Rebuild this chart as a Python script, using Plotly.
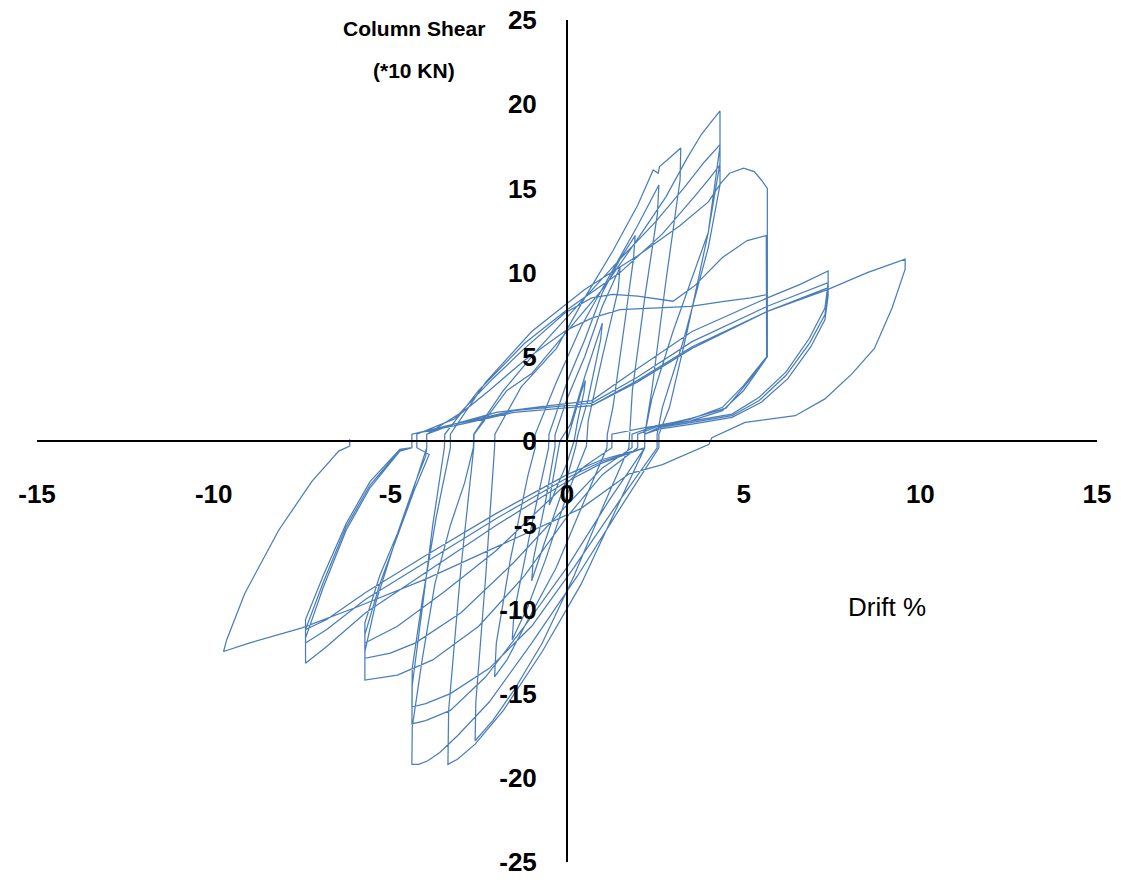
import plotly.graph_objects as go

# ---- data (drift %, column shear *10 kN) ----
drift_c1 = [0, 0.2, 0.4, 0.52, 0.48, 0.3, 0.2, 0.0, -0.3, -0.5, -0.46, -0.3, -0.2]
shear_c1 = [0, 1.5, 2.9, 3.6, 2.9, 1.2, 0, -1.3, -2.8, -3.8, -3.0, -1.2, 0]

drift_c2 = [0.1, 0.5, 1.0, 0.95, 0.6, 0.3, 0.25, 0.0, -0.5, -1.0, -0.95, -0.6, -0.34, -0.34, 0.0]
shear_c2 = [1.0, 3.8, 7.0, 6.0, 2.5, 0.3, -0.3, -2.2, -5.2, -8.3, -7.0, -3.5, -0.35, 0.35, 2.5]

drift_c3 = [0.5, 1.0, 1.5, 1.45, 1.0, 0.6, 0.55, 0.0, -0.6, -1.1, -1.55, -1.5, -1.0, -0.52, -0.51, 0.0]
shear_c3 = [5.0, 8.0, 10.3, 9.0, 5.0, 1.2, -0.3, -3.2, -7.0, -9.8, -11.8, -10.2, -5.0, -0.4, 0.4, 3.5]

drift_c4 = [0.5, 1.0, 1.5, 1.93, 1.88, 1.6, 1.3, 1.14, 1.13, 0.5, -0.3, -1.2, -1.7, -2.05, -2.0, -1.6, -1.1, -0.9, -0.9, -0.3]
shear_c4 = [6.0, 8.8, 10.8, 12.2, 10.8, 6.5, 2.0, 0.4, -0.4, -3.5, -7.5, -11.0, -13.0, -14.0, -12.0, -7.0, -2.0, -0.4, 0.4, 3.5]

drift_c5 = [0.4, 1.2, 2.0, 2.4, 2.6, 2.56, 2.2, 1.85, 1.76, 1.75, 1.0, 0.2, -0.7, -1.5, -2.1, -2.6, -2.58, -2.3, -2.05, -2.04, -1.3]
shear_c5 = [6.8, 9.8, 12.8, 14.4, 15.2, 13.5, 8.5, 3.0, 0.4, -0.4, -4.0, -8.0, -12.0, -14.8, -16.6, -17.8, -15.5, -8.0, -0.4, 0.4, 3.2]

drift_c6 = [-0.3, 0.5, 1.3, 2.0, 2.44, 2.58, 2.62, 2.9, 3.22, 3.2, 2.8, 2.4, 2.2, 2.2, 1.4, 0.4, -0.7, -1.8, -2.6, -3.1, -3.37, -3.35, -3.0, -2.64, -2.63, -1.7]
shear_c6 = [5.5, 8.5, 11.3, 14.0, 16.1, 15.9, 16.3, 16.8, 17.4, 15.5, 9.5, 3.0, 0.4, -0.4, -4.0, -8.5, -12.5, -16.0, -18.0, -18.9, -19.2, -16.0, -7.5, -0.4, 0.4, 3.0]

drift_c7 = [-1.0, 0, 1.0, 2.0, 2.8, 3.4, 3.8, 4.1, 4.33, 4.33, 4.0, 3.4, 2.9, 2.6, 2.6, 1.5, 0.3, -1.0, -2.2, -3.1, -3.6, -3.95, -4.2, -4.39, -4.38, -4.1, -3.74, -3.3, -2.9, -2.65, -2.64]
shear_c7 = [4.0, 6.5, 9.0, 12.0, 14.5, 16.8, 18.2, 19.0, 19.6, 17.5, 12.4, 6.5, 2.0, 0.4, -0.4, -4.0, -8.0, -12.0, -15.5, -17.5, -18.5, -19.0, -19.2, -19.2, -17.0, -13.0, -8.5, -5.0, -2.5, -0.4, 0.4]

drift_c8 = [-1.8, -0.8, 0.5, 1.5, 2.5, 3.3, 3.9, 4.33, 4.33, 4.0, 3.0, 2.4, 2.2, 2.2, 1.2, 0, -1.2, -2.3, -3.3, -4.0, -4.39, -4.38, -4.1, -3.8, -3.55, -3.47, -3.46]
shear_c8 = [3.0, 5.5, 8.5, 10.8, 13.0, 15.0, 16.6, 17.6, 16.5, 12.4, 6.5, 2.5, 0.4, -0.4, -3.5, -7.5, -11.0, -14.0, -16.0, -16.6, -16.8, -14.5, -10.0, -5.0, -1.5, -0.4, 0.4]

drift_c9 = [-2.5, -1.2, 0, 1.5, 2.7, 3.6, 4.0, 4.33, 4.33, 4.0, 3.3, 2.7, 2.55, 2.55, 1.5, 0.2, -1.0, -2.2, -3.3, -4.0, -4.39, -4.38, -4.1, -3.7, -3.4, -3.3, -3.3]
shear_c9 = [3.0, 5.8, 7.8, 10.0, 12.3, 14.5, 15.5, 16.4, 15.2, 11.5, 6.0, 2.0, 0.4, -0.4, -3.5, -7.5, -11.0, -13.5, -15.0, -15.6, -15.8, -13.5, -9.5, -4.5, -1.5, -0.4, 0.4]

drift_c10 = [-2.3, -1.0, 0.5, 2.0, 3.2, 4.0, 4.35, 4.6, 5.0, 5.3, 5.5, 5.67, 5.67, 5.0, 4.5, 3.54, 2.6, 2.0, 2.0, 1.0, 0, -1.2, -2.5, -3.8, -4.8, -5.72, -5.72, -5.4, -4.9, -4.4, -4.05, -3.97, -3.97]
shear_c10 = [3.5, 6.5, 9.0, 11.0, 12.8, 14.2, 15.3, 15.9, 16.2, 16.0, 15.5, 15.0, 5.0, 3.2, 1.95, 1.36, 0.9, 0.4, -0.4, -2.0, -4.5, -8.0, -11.0, -13.0, -13.9, -14.2, -12.5, -9.5, -6.2, -3.2, -1.0, -0.4, 0.4]

drift_c11 = [-3.06, -2.1, -1.2, -0.06, 0.7, 1.3, 2.0, 3.0, 3.6, 4.4, 5.1, 5.64, 5.65, 5.0, 4.4, 3.5, 2.5, 1.84, 1.84, 1.0, 0, -1.5, -3.0, -4.3, -5.0, -5.72, -5.72, -5.3, -4.87, -4.3, -3.9, -4.25, -4.25]
shear_c11 = [1.6, 3.7, 5.5, 7.6, 8.5, 8.7, 8.6, 8.3, 9.2, 10.9, 11.9, 12.2, 5.0, 3.3, 2.0, 1.3, 0.9, 0.4, -0.4, -1.6, -3.8, -7.2, -10.2, -12.0, -12.6, -12.9, -11.5, -8.5, -6.0, -2.8, -0.8, -0.4, 0.4]

drift_c12 = [-3.2, -2.2, -1.2, 0, 0.7, 1.5, 2.5, 3.5, 4.5, 5.2, 5.67, 5.67, 5.0, 4.4, 3.5, 2.2, 1.27, 1.27, 0.5, -0.5, -2.0, -3.5, -4.8, -5.72, -5.72, -5.3, -4.8, -4.3, -4.0, -3.97, -3.97]
shear_c12 = [1.3, 3.0, 4.8, 6.6, 7.3, 7.8, 7.9, 8.0, 8.3, 8.5, 8.7, 5.0, 3.0, 1.8, 1.2, 0.8, 0.4, -0.4, -1.5, -3.5, -6.5, -9.0, -11.0, -12.0, -10.8, -8.0, -5.5, -2.5, -0.9, -0.4, 0.4]

drift_c13 = [-3.2, -2.0, -0.5, 0.7, 2.0, 3.54, 5.67, 6.6, 7.39, 7.39, 7.3, 6.86, 6.2, 5.44, 4.67, 3.54, 2.7, 2.2, 2.2, 1.0, 0, -2.0, -4.0, -5.7, -6.8, -7.4, -7.4, -6.9, -6.25, -5.57, -4.73, -4.39, -4.39]
shear_c13 = [1.0, 1.7, 2.1, 2.4, 4.3, 6.5, 8.5, 9.3, 10.1, 9.4, 7.9, 6.1, 4.1, 2.6, 1.6, 1.2, 0.9, 0.4, -0.4, -1.3, -2.4, -5.0, -7.8, -10.2, -12.2, -13.2, -11.7, -8.7, -5.3, -2.76, -0.6, -0.4, 0.4]

drift_c14 = [-3.2, -1.5, 0.7, 2.0, 3.54, 5.67, 7.39, 7.39, 7.3, 6.86, 6.2, 5.44, 4.67, 3.54, 2.6, 2.2, 2.2, 1.0, 0, -2.0, -4.0, -5.7, -6.8, -7.4, -7.4, -6.9, -6.25, -5.57, -4.73, -4.39, -4.39]
shear_c14 = [1.0, 1.8, 2.25, 3.8, 5.9, 8.0, 9.4, 8.9, 7.5, 5.8, 3.9, 2.4, 1.5, 1.1, 0.8, 0.4, -0.4, -1.2, -2.2, -4.6, -7.2, -9.4, -11.2, -12.0, -11.2, -8.4, -5.1, -2.6, -0.55, -0.4, 0.4]

drift_c15 = [-3.2, -1.5, 0.7, 2.0, 3.54, 5.67, 7.39, 7.39, 7.3, 6.9, 6.25, 5.5, 4.67, 3.54, 2.6, 2.2, 2.2, 1.0, 0, -2.0, -4.0, -5.7, -6.8, -7.4, -7.4, -6.9, -6.25, -5.57, -4.73, -4.39, -4.39]
shear_c15 = [0.9, 1.7, 2.1, 3.5, 5.5, 7.7, 9.1, 8.6, 7.2, 5.6, 3.7, 2.3, 1.4, 1.0, 0.7, 0.4, -0.4, -1.1, -2.0, -4.3, -6.8, -9.0, -10.6, -11.2, -10.6, -8.0, -4.9, -2.4, -0.5, -0.4, 0.4]

drift_c16 = [-3.2, -1.5, 0.7, 2.0, 3.54, 5.67, 7.39, 8.5, 9.57, 9.57, 9.2, 8.7, 8.07, 7.3, 6.46, 5.04, 4.1, 4.02, 2.7, 1.76, 0.4, -2.0, -4.0, -6.0, -7.5, -9.0, -9.72, -9.63, -9.12, -8.16, -7.22, -6.46, -6.15, -6.15]
shear_c16 = [1.0, 1.7, 2.1, 3.6, 5.6, 7.7, 9.0, 10.0, 10.8, 10.2, 7.9, 5.5, 4.0, 2.5, 1.5, 1.1, 0.2, -0.2, -1.4, -1.95, -4.0, -6.3, -8.2, -9.9, -11.1, -12.0, -12.5, -11.8, -9.05, -5.3, -2.4, -0.6, -0.3, 0.1]

x_ticks = [-15, -10, -5, 0, 5, 10, 15]
y_ticks = [-25, -20, -15, -10, -5, 0, 5, 10, 15, 20, 25]
y_title = ["Column Shear", "(*10 KN)"]
x_title = "Drift %"

drift = (drift_c1 + drift_c2 + drift_c3 + drift_c4 + drift_c5 + drift_c6 + drift_c7 + drift_c8
         + drift_c9 + drift_c10 + drift_c11 + drift_c12 + drift_c13 + drift_c14 + drift_c15 + drift_c16)
shear = (shear_c1 + shear_c2 + shear_c3 + shear_c4 + shear_c5 + shear_c6 + shear_c7 + shear_c8
         + shear_c9 + shear_c10 + shear_c11 + shear_c12 + shear_c13 + shear_c14 + shear_c15 + shear_c16)

fig = go.Figure()
fig.add_trace(go.Scatter(x=drift, y=shear, mode="lines",
                         line=dict(color="#4A7EBB", width=1.25), showlegend=False,
                         hoverinfo="skip"))

tick_font = dict(family="Liberation Sans", size=26, color="black")
fig.update_layout(
    width=1121, height=882,
    margin=dict(l=37, r=24, t=20, b=20),
    paper_bgcolor="white", plot_bgcolor="white",
    xaxis=dict(range=[-15, 15], tickvals=x_ticks,
               ticktext=[f"<b>{v}</b>" for v in x_ticks],
               showgrid=False, zeroline=False, showline=True, automargin=False,
               linecolor="black", linewidth=2, anchor="free", position=0.5,
               ticks="outside", ticklen=30, tickcolor="rgba(0,0,0,0)",
               tickfont=tick_font),
    yaxis=dict(range=[-25, 25], tickvals=y_ticks,
               ticktext=[f"<b>{v}</b>" for v in y_ticks],
               showgrid=False, zeroline=False, showline=True, automargin=False,
               linecolor="black", linewidth=2, anchor="free", position=0.5,
               ticks="outside", ticklen=24, tickcolor="rgba(0,0,0,0)",
               tickfont=tick_font),
)

title_font = dict(family="Liberation Sans", size=21, color="black")
fig.add_annotation(x=-4.33, y=24.5, xref="x", yref="y", text=f"<b>{y_title[0]}</b>",
                   showarrow=False, font=title_font)
fig.add_annotation(x=-4.33, y=22.0, xref="x", yref="y", text=f"<b>{y_title[1]}</b>",
                   showarrow=False, font=title_font)
fig.add_annotation(x=9.06, y=-9.86, xref="x", yref="y", text=x_title,
                   showarrow=False, font=dict(family="Liberation Sans", size=26, color="black"))

fig.write_html("out.html", config={"displayModeBar": False})
with open("out.html", "r", encoding="utf-8") as f:
    html = f.read()
html = html.replace("<head>", "<head><style>body{margin:0;}</style>", 1)
with open("out.html", "w", encoding="utf-8") as f:
    f.write(html)
